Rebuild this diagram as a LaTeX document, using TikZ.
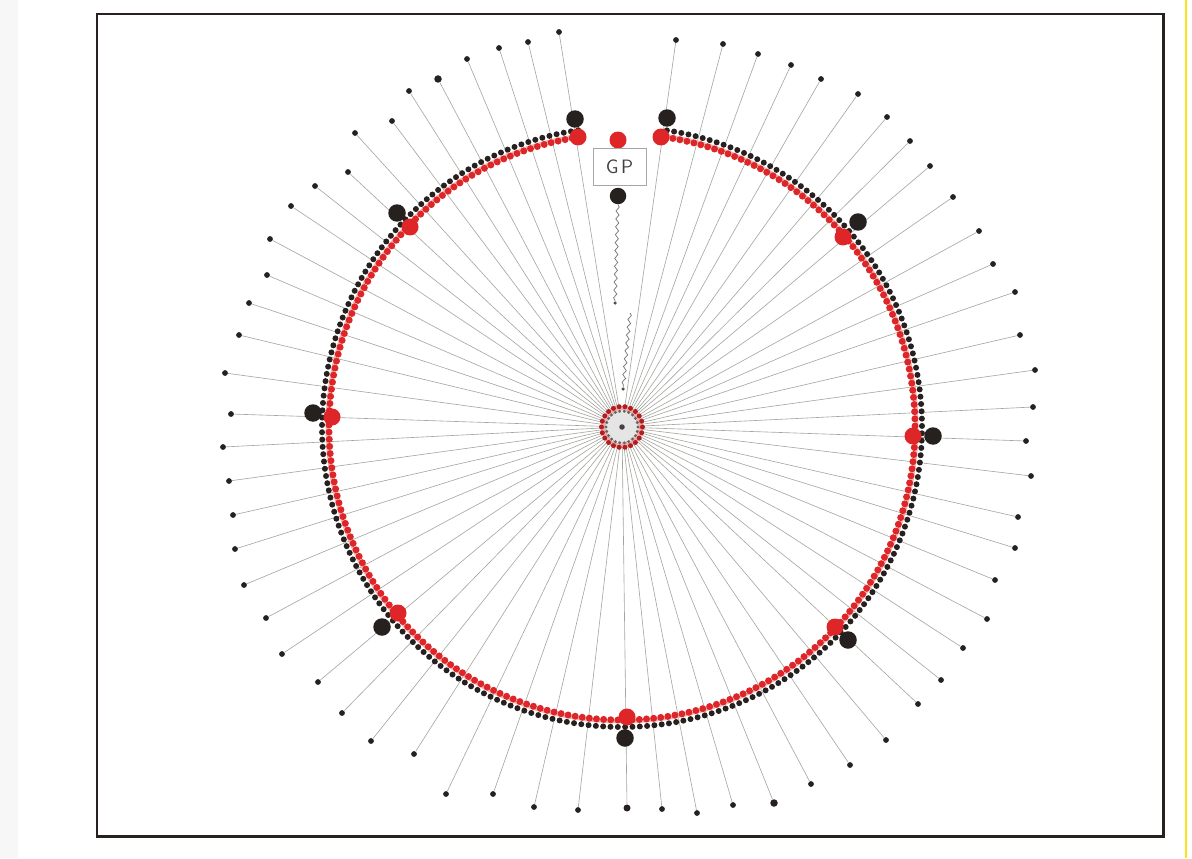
\documentclass[tikz,border=0pt]{standalone}
\usetikzlibrary{decorations.pathmorphing,calc}
\definecolor{dotred}{RGB}{222,38,40}
\definecolor{dotblack}{RGB}{38,32,30}
\definecolor{spokegray}{RGB}{165,165,160}
\definecolor{scanyellow}{RGB}{250,230,20}
\begin{document}
\begin{tikzpicture}[x=0.02cm,y=-0.02cm,
  outerdot/.style={circle,fill=dotblack,inner sep=0pt,minimum size=#1},
  outerdot/.default=1.15mm,
  spoke/.style={draw=spokegray,line width=0.35pt},
  ringred/.style={circle,fill=dotred,inner sep=0pt,minimum size=1.4mm},
  ringblack/.style={circle,fill=dotblack,inner sep=0pt,minimum size=1.2mm},
  bigred/.style={circle,fill=dotred,inner sep=0pt,minimum size=3.4mm},
  bigblack/.style={circle,fill=dotblack,inner sep=0pt,minimum size=3.5mm},
  tinydot/.style={circle,fill=dotblack!80,inner sep=0pt,minimum size=0.7mm},
  wave/.style={draw=black!55,line width=0.4pt,decorate,
    decoration={snake,amplitude=0.9pt,segment length=4.5pt}},
  frame/.style={draw=dotblack,line width=1.7pt},
  gpbox/.style={draw=black!35,line width=0.4pt,minimum width=10.6mm,
    minimum height=7.4mm,inner sep=0pt,text=black!75,
    font=\sffamily\fontsize{11}{11}\selectfont}]
\useasboundingbox (0,0) rectangle (1192,858);
\fill[white] (0,0) rectangle (1192,858);
\fill[black!3] (0,0) rectangle (18,858);
\draw[scanyellow,line width=1pt] (1186,0) -- (1186,858);

% frame
\draw[frame] (97,14) rectangle (1163,836);

% centre
\coordinate (c) at (622,427);

% outer dots with spokes
\foreach \x/\y/\s [count=\i] in {
  559/32/1.15mm, 528/42/1.15mm, 499/48/1.15mm, 467/59/1.15mm, 438/79/1.5mm,
  409/91/1.15mm, 392/121/1.15mm, 355/133/1.15mm, 348/172/1.15mm, 315/186/1.15mm,
  291/206/1.15mm, 270/239/1.15mm, 267/275/1.15mm, 249/303/1.15mm, 239/335/1.15mm,
  225/373/1.15mm, 231/414/1.15mm,
  223/447/1.15mm, 229/481/1.15mm, 233/515/1.15mm, 235/549/1.15mm, 244/585/1.15mm,
  266/618/1.15mm, 282/654/1.15mm, 318/682/1.15mm, 342/713/1.15mm, 371/741/1.15mm,
  414/754/1.15mm, 446/794/1.15mm, 493/794/1.15mm, 534/807/1.15mm, 578/810/1.15mm,
  627/808/1.4mm,
  662/809/1.15mm, 697/813/1.15mm, 733/805/1.15mm, 774/803/1.5mm, 811/784/1.15mm,
  850/765/1.15mm, 886/740/1.15mm, 918/704/1.15mm, 941/680/1.15mm, 963/648/1.15mm,
  987/619/1.15mm, 995/580/1.15mm, 1015/548/1.15mm, 1018/517/1.15mm, 1031/476/1.15mm,
  1026/441/1.15mm,
  1033/407/1.15mm, 1035/370/1.15mm, 1020/335/1.15mm, 1015/292/1.15mm, 993/264/1.15mm,
  979/231/1.15mm, 953/197/1.15mm, 930/166/1.15mm, 910/141/1.15mm, 887/117/1.15mm,
  858/94/1.15mm, 821/79/1.15mm, 791/65/1.15mm, 758/54/1.15mm, 723/44/1.15mm,
  676/40/1.15mm}{
  \node[outerdot=\s] (o\i) at (\x,\y) {};
  \draw[spoke] (c) -- (o\i);
}

% ring of red/black pairs (angles measured clockwise on screen)
\draw[dotred!35,line width=1.6pt] ($(c)+(-98.4:295)$) arc[start angle=-98.4,end angle=-441.6,radius=295];
\foreach \k in {0,...,245}{
  \pgfmathsetmacro\a{-(98.4+\k*1.4)}
  \node[ringred] (rr\k) at ($(c)+(\a:293)$) {};
}
\foreach \k in {0,...,245}{
  \pgfmathsetmacro\a{-(98.4+\k*1.4)}
  \node[ringblack] (rb\k) at ($(c)+(\a:300)$) {};
}

% big pairs
\node[bigred]   (r1) at (578,137) {};
\node[bigblack] (b1) at (575,119) {};
\node[bigred]   (r2) at (661,137) {};
\node[bigblack] (b2) at (667,118) {};
\node[bigblack] (b3) at (397,213) {};
\node[bigred]   (r3) at (410,227) {};
\node[bigblack] (b4) at (313,413) {};
\node[bigred]   (r4) at (332,417) {};
\node[bigblack] (b5) at (382,627) {};
\node[bigred]   (r5) at (398,613) {};
\node[bigblack] (b6) at (625,738) {};
\node[bigred]   (r6) at (627,717) {};
\node[bigblack] (b7) at (848,640) {};
\node[bigred]   (r7) at (835,627) {};
\node[bigblack] (b8) at (933,436) {};
\node[bigred]   (r8) at (913,436) {};
\node[bigblack] (b9) at (858,222) {};
\node[bigred]   (r9) at (843,237) {};

% GP group
\node[bigred] (gpr) at (618,140) {};
\node[gpbox] (gp) at (619.5,166.5) {G\hspace{1.5pt}P};
\node[bigblack,minimum size=3.3mm] (gpb) at (618,196) {};
\node[tinydot] (w1) at (615,303) {};
\coordinate (w2s) at (630,313);
\node[tinydot] (w2) at (623,389) {};
\draw[wave] (gpb) -- (w1);
\draw[wave] (w2s) -- (w2);

% centre rosette
\fill[black!10] (c) circle (15);
\draw[dotred!40,line width=2.5pt] (c) circle (19);
\foreach \k in {0,...,21}{
  \pgfmathsetmacro\a{\k*360/22}
  \node[circle,fill=dotred!80!black,inner sep=0pt,minimum size=1mm] (cr\k) at ($(c)+(\a:20.5)$) {};
  \node[circle,fill=dotblack!70,inner sep=0pt,minimum size=0.65mm] (cb\k) at ($(c)+(\a:16)$) {};
}
\node[circle,fill=dotblack!85,inner sep=0pt,minimum size=1.1mm] (cc) at (c) {};
\end{tikzpicture}
\end{document}
